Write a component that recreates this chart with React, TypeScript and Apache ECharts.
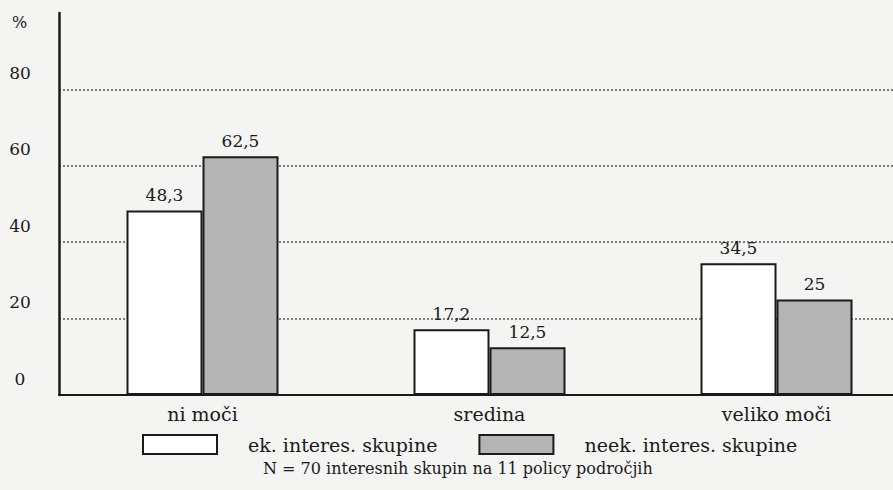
import React, { useEffect, useRef } from "react";
import * as echarts from "echarts";

const categories = ["ni moči", "sredina", "veliko moči"];
const seriesNames = ["ek. interes. skupine", "neek. interes. skupine"];
const ekValues = [48.3, 17.2, 34.5];
const neekValues = [62.5, 12.5, 25];
const yMin = 0;
const yMax = 100;
const yInterval = 20;
const unitLabel = "%";
const noteText = "N = 70 interesnih skupin na 11 policy področjih";

const FONT = "DejaVu Serif";
const INK = "#1a1a1a";

export default function App() {
  const ref = useRef<HTMLDivElement>(null);
  useEffect(() => {
    if (!ref.current) return;
    const chart = echarts.init(ref.current, null, { renderer: "svg" });
    const fmt = (v: number) => String(v).replace(".", ",");
    const gridColor = "#555";
    const option: any = {
      animation: false,
      backgroundColor: "#f4f4f3",
      textStyle: { fontFamily: FONT, color: INK },
      grid: { left: 59, right: 0, top: 13, bottom: 95, containLabel: false },
      legend: {
        left: 137,
        top: 429,
        itemWidth: 74,
        itemHeight: 19,
        itemGap: 41,
        icon: "rect",
        data: seriesNames,
        textStyle: { fontFamily: FONT, fontSize: 19, color: INK, padding: [0, 0, 0, 26] },
      },
      xAxis: {
        type: "category",
        data: categories,
        axisLine: { show: true, lineStyle: { color: INK, width: 2 } },
        axisTick: { show: false },
        axisLabel: { fontFamily: FONT, fontSize: 19, color: INK, margin: 9 },
        splitLine: { show: false },
      },
      yAxis: {
        type: "value",
        min: yMin,
        max: yMax,
        interval: yInterval,
        axisLine: { show: true, lineStyle: { color: INK, width: 2.5 } },
        axisTick: { show: false },
        axisLabel: {
          fontFamily: FONT,
          fontSize: 17,
          color: INK,
          align: "center",
          verticalAlign: "bottom",
          margin: 39,
          padding: [0, 0, 8, 0],
          formatter: (v: number) => (v === yMax ? "" : String(v)),
        },
        splitLine: {
          show: true,
          lineStyle: {
            color: ["transparent", gridColor, gridColor, gridColor, gridColor, "transparent"],
            type: [2, 2],
            width: 1.5,
          },
        },
      },
      graphic: [
        {
          type: "text",
          left: 12,
          top: 14,
          style: { text: unitLabel, fontFamily: FONT, fontSize: 16, fill: INK },
        },
        {
          type: "text",
          left: 263,
          top: 460,
          style: { text: noteText, fontFamily: FONT, fontSize: 16, fill: INK },
        },
      ],
      series: [
        {
          name: seriesNames[0],
          type: "bar",
          data: ekValues,
          barWidth: 76,
          barGap: "0%",
          itemStyle: { color: "#ffffff", borderColor: INK, borderWidth: 2 },
          label: {
            show: true,
            position: "top",
            distance: 7,
            fontFamily: FONT,
            fontSize: 17,
            color: INK,
            formatter: (p: any) => fmt(p.value),
          },
        },
        {
          name: seriesNames[1],
          type: "bar",
          data: neekValues,
          barWidth: 76,
          barGap: "0%",
          itemStyle: { color: "#b4b4b4", borderColor: INK, borderWidth: 2 },
          label: {
            show: true,
            position: "top",
            distance: 7,
            fontFamily: FONT,
            fontSize: 17,
            color: INK,
            formatter: (p: any) => fmt(p.value),
          },
        },
      ],
    };
    chart.setOption(option);
    return () => chart.dispose();
  }, []);
  return (
    <div
      style={{
        position: "fixed",
        left: 0,
        top: 0,
        width: 893,
        height: 490,
        overflow: "hidden",
        background: "#f4f4f3",
      }}
    >
      <div ref={ref} style={{ width: 920, height: 490 }} />
    </div>
  );
}
